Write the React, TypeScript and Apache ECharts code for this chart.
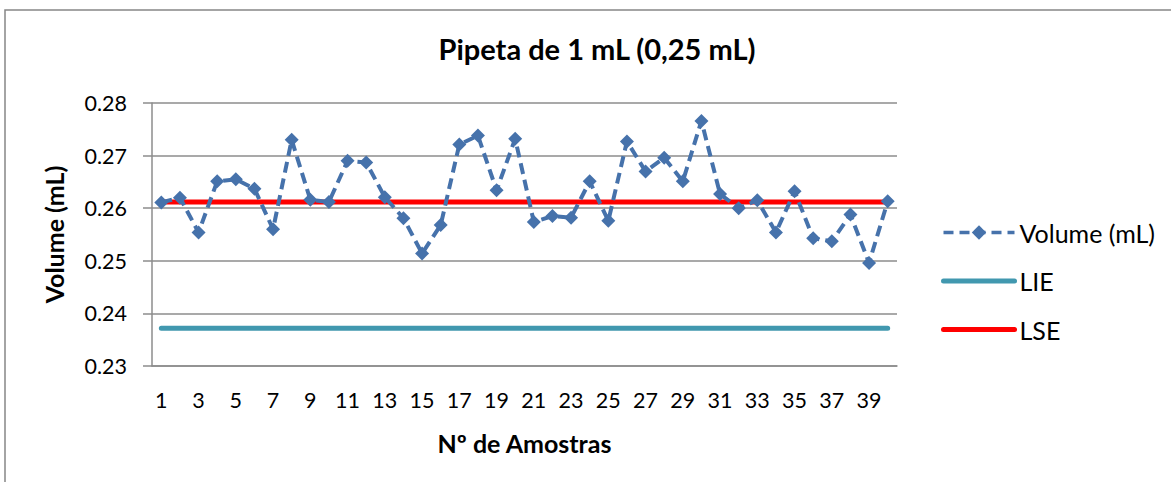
import React, { useEffect, useRef } from "react";
import * as echarts from "echarts";

const categories = [
  "1", "2", "3", "4", "5", "6", "7", "8", "9", "10",
  "11", "12", "13", "14", "15", "16", "17", "18", "19", "20",
  "21", "22", "23", "24", "25", "26", "27", "28", "29", "30",
  "31", "32", "33", "34", "35", "36", "37", "38", "39", "40",
];

const volumeValues = [
  0.2611, 0.2620, 0.2554, 0.2651, 0.2655, 0.2637, 0.2560, 0.2730, 0.2616, 0.2612,
  0.2690, 0.2687, 0.2621, 0.2581, 0.2514, 0.2568, 0.2721, 0.2738, 0.2634, 0.2732,
  0.2574, 0.2585, 0.2582, 0.2651, 0.2576, 0.2727, 0.2670, 0.2696, 0.2651, 0.2766,
  0.2627, 0.2600, 0.2615, 0.2554, 0.2632, 0.2543, 0.2537, 0.2588, 0.2496, 0.2613,
];

const LIE_VALUE = 0.2372;
const LSE_VALUE = 0.2612;

const lieValues = categories.map(() => LIE_VALUE);
const lseValues = categories.map(() => LSE_VALUE);

const FONT = "Lato";
const GRID_COLOR = "#8C8C8C";
const BLUE = "#4672AB";
const TEAL = "#4198AF";
const RED = "#FF0000";

export default function App() {
  const ref = useRef<HTMLDivElement>(null);

  useEffect(() => {
    if (!ref.current) return;
    const chart = echarts.init(ref.current, undefined, { renderer: "svg" });
    chart.setOption({
      animation: false,
      backgroundColor: "#ffffff",
      textStyle: { fontFamily: FONT },
      title: {
        text: "Pipeta de 1 mL (0,25 mL)",
        left: 597,
        textAlign: "center",
        top: 34,
        padding: 0,
        textStyle: { fontFamily: FONT, fontSize: 29, fontWeight: "bold", color: "#000" },
      },
      graphic: [
        {
          type: "rect",
          shape: { x: 5, y: 10, width: 1200, height: 500 },
          style: { fill: "none", stroke: "#868686", lineWidth: 1.5 },
          silent: true,
        },
      ],
      grid: { left: 152, right: 274, top: 103, bottom: 116, containLabel: false },
      legend: {
        orient: "vertical",
        left: 941,
        top: 220,
        padding: 0,
        itemWidth: 71,
        itemHeight: 18,
        itemGap: 23.5,
        textStyle: { fontFamily: FONT, fontSize: 25, color: "#000" },
        data: [
          { name: "Volume (mL)", lineStyle: { width: 3.5, type: [10, 6] } },
          { name: "LIE", itemStyle: { opacity: 0 }, lineStyle: { width: 5 } },
          { name: "LSE", itemStyle: { opacity: 0 }, lineStyle: { width: 5 } },
        ],
      },
      xAxis: {
        type: "category",
        data: categories,
        boundaryGap: true,
        name: "Nº de Amostras",
        nameLocation: "middle",
        nameGap: 64,
        nameTextStyle: { fontFamily: FONT, fontSize: 25, fontWeight: "bold", color: "#000" },
        axisLine: { show: true, lineStyle: { color: GRID_COLOR, width: 1.5 } },
        axisTick: { show: false },
        axisLabel: { interval: 1, margin: 23, fontFamily: FONT, fontSize: 21.5, color: "#000" },
      },
      yAxis: {
        type: "value",
        min: 0.23,
        max: 0.28,
        interval: 0.01,
        name: "Volume (mL)",
        nameLocation: "middle",
        nameGap: 86,
        nameTextStyle: { fontFamily: FONT, fontSize: 25, fontWeight: "bold", color: "#000" },
        axisLine: { show: true, lineStyle: { color: GRID_COLOR, width: 1.5 } },
        axisTick: { show: true, length: 9, lineStyle: { color: GRID_COLOR, width: 1.5 } },
        splitLine: { show: true, lineStyle: { color: GRID_COLOR, width: 1.5 } },
        axisLabel: {
          margin: 25,
          fontFamily: FONT,
          fontSize: 21.5,
          color: "#000",
          formatter: (v: number) => v.toFixed(2),
        },
      },
      series: [
        {
          name: "Volume (mL)",
          type: "line",
          data: volumeValues,
          symbol: "diamond",
          symbolSize: 14,
          showAllSymbol: true,
          z: 3,
          itemStyle: { color: BLUE },
          lineStyle: { color: BLUE, width: 4, type: [11, 6] },
        },
        {
          name: "LIE",
          type: "line",
          data: lieValues,
          symbol: "none",
          z: 2,
          itemStyle: { color: TEAL },
          lineStyle: { color: TEAL, width: 5, cap: "round" },
        },
        {
          name: "LSE",
          type: "line",
          data: lseValues,
          symbol: "none",
          z: 2,
          itemStyle: { color: RED },
          lineStyle: { color: RED, width: 5, cap: "round" },
        },
      ],
    });
    return () => chart.dispose();
  }, []);

  return (
    <div
      ref={ref}
      style={{ position: "fixed", left: 0, top: 0, width: 1171, height: 482 }}
    />
  );
}
